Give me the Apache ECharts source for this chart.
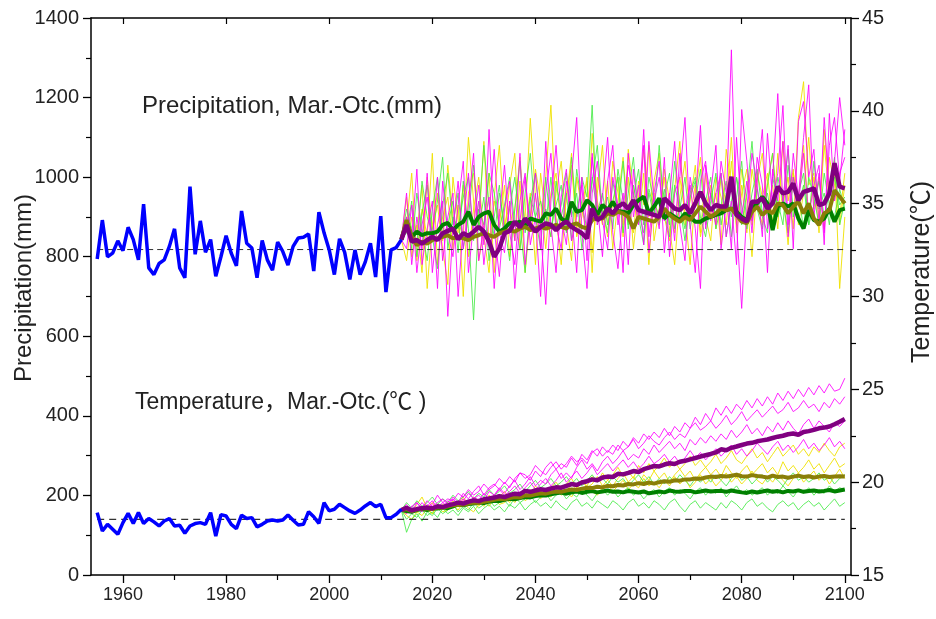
<!DOCTYPE html>
<html><head><meta charset="utf-8">
<script src="https://cdn.jsdelivr.net/npm/echarts@6/dist/echarts.min.js"></script>
<style>html,body{margin:0;padding:0;background:#fff}#c{width:936px;height:619px}</style>
</head><body><div id="c"></div>
<script>
// ---------- DATA ----------
const obsStart = 1955;
const futStart = 2014;
const xMajorTicks = [1960, 1980, 2000, 2020, 2040, 2060, 2080, 2100];
const xMinorTicks = [1970, 1990, 2010, 2030, 2050, 2070, 2090];
const precipBaseline = 818;
const tempBaseline = 18.0;

const obsPrecip = [794,892,800,809,840,815,874,843,792,932,
772,755,783,792,826,870,772,747,976,806,
890,811,843,751,800,853,809,777,915,834,
822,747,841,792,766,837,813,779,826,847,
849,857,764,912,860,817,755,845,811,743,
817,755,787,834,749,902,711,817,823,843];

const obsTemp = [18.36,17.37,17.73,17.46,17.19,17.82,18.32,17.78,18.36,17.78,
18.04,17.86,17.64,17.91,18.04,17.64,17.68,17.25,17.64,17.77,
17.82,17.73,18.36,17.10,18.25,18.18,17.73,17.50,18.22,18.04,
18.09,17.59,17.73,17.91,17.96,17.91,17.96,18.23,17.95,17.69,
17.73,18.41,18.14,17.78,18.90,18.45,18.54,18.81,18.63,18.45,
18.32,18.50,18.72,18.90,18.68,18.81,18.09,18.09,18.27,18.54];

// thick ensemble means, precipitation (2014-2100)
const precipPurple = [843,880,838,842,833,842,850,842,859,865,
871,844,859,852,863,875,863,838,800,821,
859,865,888,874,896,880,863,875,884,880,
867,880,888,875,867,859,846,921,892,900,
921,909,926,934,921,942,917,913,909,905,
900,947,934,921,917,930,909,934,963,934,
917,930,926,926,1001,905,896,888,938,938,
947,921,934,976,959,963,984,942,963,967,
972,930,934,959,1035,976,972];
const precipGreen = [843,888,850,863,854,859,859,863,880,885,
867,880,888,913,880,900,909,913,880,863,
871,885,884,888,875,896,892,888,909,905,
921,896,888,938,913,917,942,930,905,930,
917,938,915,913,909,930,942,951,909,926,
947,896,909,900,892,909,900,888,888,896,
900,905,909,917,921,913,900,892,921,934,
951,934,867,926,934,926,934,896,871,917,
892,888,896,921,888,917,921];
const precipOlive = [843,892,850,829,838,833,842,846,850,854,
846,850,846,842,850,854,859,854,850,859,
863,867,863,871,875,867,871,875,871,875,
880,875,871,880,884,875,871,892,900,896,
909,905,913,909,900,871,900,896,892,888,
900,921,905,896,888,900,892,909,926,913,
900,909,921,917,921,905,888,884,913,926,
905,917,909,934,930,909,926,938,909,934,
896,880,909,917,967,951,934];

// thin ensemble members, precipitation (2014-2100)
const precipMagenta1 = [843,960,780,900,820,1010,760,880,940,650,
870,990,820,930,1060,790,880,950,720,900,
1030,860,780,940,1010,830,900,700,960,1060,
880,820,990,910,760,1000,870,1050,930,800,
990,1080,880,960,780,1020,900,1120,850,960,
1040,810,950,1090,880,790,1000,930,1130,870,
960,1080,820,930,1320,880,670,920,1060,980,
850,1110,940,1010,1180,880,1060,950,1100,1232,
900,1010,860,1080,1150,990,1120];
const precipMagenta2 = [843,900,850,1020,780,870,940,720,990,860,
800,930,1040,760,880,980,830,1120,870,750,
920,990,840,1060,780,900,1010,870,680,940,
1080,900,830,1000,1150,860,720,960,1040,890,
820,1000,930,760,1060,900,980,830,1090,940,
870,1050,800,960,1000,1150,880,760,990,1040,
890,960,1010,850,940,780,1170,1040,890,990,
1120,870,1000,1210,930,1080,820,1140,1190,1000,
1070,880,1150,960,1040,1200,1080];
const precipMagenta3 = [843,820,930,760,880,950,840,1000,790,900,
960,700,880,1010,850,940,780,900,1070,860,
810,940,720,890,1000,870,960,820,1090,880,
760,950,1020,840,900,980,790,1060,880,950,
1100,860,770,920,1030,960,880,1080,810,940,
1000,890,960,840,1060,920,980,870,720,1030,
950,880,1040,960,820,1100,900,990,860,1050,
980,760,1020,940,1090,850,1000,930,1060,900,
980,1030,830,1160,940,1010,1050];
const precipYellow1 = [843,950,800,880,760,1000,870,930,820,730,
1000,890,850,1100,940,790,870,1010,760,920,
860,980,1060,820,900,1148,950,880,1000,1181,
900,780,960,1030,870,920,1000,810,960,1080,
880,930,1000,850,1070,960,890,1010,780,990,
1060,900,840,970,1090,880,940,1030,850,920,
980,870,1000,930,1100,860,960,1020,880,1010,
950,1010,880,1060,930,1000,870,1150,1240,980,
1010,900,1080,950,1040,720,900];
const precipYellow2 = [843,880,1010,790,920,850,1060,780,900,950,
820,930,700,960,1010,870,1090,830,940,880,
980,800,920,1050,870,960,780,1010,900,850,
960,1040,880,790,1000,920,860,1110,940,880,
990,820,940,1050,900,860,990,930,1080,840,
920,1000,870,780,950,1040,900,980,860,1010,
900,960,830,1070,980,880,1020,940,800,990,
1060,910,980,870,1090,940,1020,880,960,1100,
920,1000,870,1050,980,900,1010];
const precipYellow3 = [843,790,900,860,980,720,880,960,840,1030,
900,860,980,800,920,1000,850,760,950,1080,
880,930,840,990,760,900,1020,940,820,960,
1010,870,940,1060,850,900,990,760,1000,920,
850,1040,960,880,1000,820,950,1070,900,960,
880,1020,940,860,1000,910,780,960,1050,900,
840,1000,950,880,1040,900,980,860,1020,940,
880,990,1060,900,960,830,1010,940,1080,900,
1000,860,1120,960,1010,880,980];
const precipGreen1 = [843,900,820,960,870,790,920,1000,850,880,
940,810,990,870,641,900,1080,930,850,960,
880,790,920,1040,860,950,900,820,1000,870,
930,980,860,1050,900,1000,950,1181,880,920,
860,990,910,1040,870,950,1020,880,960,900,
1080,910,850,980,920,1000,870,940,1020,880,
960,900,1010,850,940,1000,880,960,1090,920,
870,980,1060,900,940,860,1000,930,980,880,
1040,920,960,880,1000,930,950];
const precipGreen2 = [843,860,940,800,910,980,850,770,930,1010,
880,960,820,900,1030,870,950,790,900,980,
850,920,1000,880,760,940,1010,870,920,850,
990,900,960,840,1020,930,870,1000,910,960,
880,940,1000,860,960,1050,900,830,970,920,
880,950,1010,870,930,840,960,1000,880,940,
1000,870,930,990,850,950,1040,880,920,970,
900,860,1000,940,880,1030,920,960,870,1000,
950,880,1010,930,900,970,920];
const precipGreen3 = [843,920,870,830,990,900,860,940,1050,820,
900,870,950,1000,840,920,880,1010,960,870,
930,1000,880,820,960,1060,900,940,880,1000,
870,930,1010,900,960,820,880,990,1080,900,
950,870,1020,940,880,980,910,860,1000,940,
900,970,880,1040,930,870,950,990,900,850,
940,1010,880,960,900,1000,930,870,960,1020,
910,960,880,1000,940,1070,900,960,1010,880,
930,990,900,960,1050,880,940];

// thick ensemble means, temperature (2014-2100)
const tempPurple = [18.5,18.62,18.48,18.55,18.6,18.63,18.58,18.7,18.66,18.75,
18.82,18.9,18.85,18.95,19.02,18.98,19.08,19.12,19.17,19.25,
19.2,19.3,19.38,19.35,19.53,19.48,19.55,19.62,19.58,19.66,
19.72,19.7,19.8,19.9,19.85,19.98,20.05,20.15,20.1,20.25,
20.3,20.28,20.45,20.42,20.5,20.6,20.55,20.7,20.78,20.87,
20.85,20.95,21.02,20.98,21.1,21.15,21.23,21.3,21.38,21.45,
21.52,21.6,21.77,21.72,21.85,21.92,22.0,22.08,22.12,22.2,
22.25,22.3,22.38,22.45,22.5,22.58,22.62,22.55,22.7,22.75,
22.82,22.9,22.94,23.0,23.12,23.25,23.4];
const tempOlive = [18.5,18.55,18.45,18.52,18.58,18.6,18.55,18.65,18.62,18.7,
18.75,18.8,18.78,18.85,18.9,18.88,18.95,19.0,19.05,19.1,
19.08,19.15,19.2,19.18,19.3,19.28,19.35,19.4,19.38,19.45,
19.5,19.48,19.55,19.6,19.58,19.65,19.7,19.68,19.75,19.72,
19.8,19.78,19.85,19.82,19.9,19.88,19.95,19.9,19.98,19.92,
20.0,20.05,20.02,20.1,20.08,20.15,20.15,20.2,20.18,20.25,
20.3,20.28,20.33,20.3,20.35,20.4,20.32,20.3,20.38,20.33,
20.3,20.25,20.35,20.28,20.3,20.24,20.3,20.35,20.28,20.32,
20.25,20.3,20.33,20.28,20.3,20.32,20.3];
const tempGreen = [18.5,18.45,18.4,18.5,18.55,18.5,18.6,18.58,18.65,18.6,
18.7,18.8,18.75,18.82,18.85,18.9,18.88,18.95,19.0,18.98,
19.05,19.1,19.08,19.15,19.2,19.18,19.25,19.3,19.28,19.35,
19.4,19.44,19.38,19.45,19.5,19.42,19.48,19.52,19.45,19.5,
19.55,19.48,19.5,19.45,19.52,19.48,19.44,19.5,19.4,19.44,
19.5,19.45,19.55,19.5,19.48,19.52,19.53,19.45,19.5,19.55,
19.5,19.53,19.53,19.48,19.55,19.5,19.45,19.42,19.5,19.44,
19.5,19.55,19.48,19.52,19.45,19.53,19.5,19.56,19.48,19.52,
19.55,19.5,19.53,19.58,19.5,19.55,19.6];

// thin ensemble members, temperature (2014-2100)
const tempMagenta1 = [18.5,18.8,18.4,18.9,18.6,19.0,18.7,18.9,19.1,18.8,
19.2,18.9,19.4,19.1,19.5,19.8,19.3,19.7,19.9,19.6,
20.0,19.7,20.2,20.5,20.4,20.1,20.6,20.3,20.8,21.1,
20.7,21.0,20.8,21.3,20.9,21.5,21.2,21.7,21.4,21.9,
21.6,22.0,21.7,22.2,21.9,22.4,22.1,22.6,22.3,22.7,
22.4,22.9,22.5,23.0,22.7,23.2,22.9,23.5,23.1,23.7,
23.3,24.0,23.6,24.1,23.7,24.2,23.9,24.4,24.0,24.5,
24.1,24.6,24.2,24.8,24.4,24.9,24.5,25.0,24.6,25.1,
24.7,25.2,24.8,25.3,24.9,25.0,25.6];
const tempMagenta2 = [18.5,18.3,18.7,18.5,18.9,18.6,18.8,19.3,18.9,19.1,
19.0,19.4,19.2,19.6,19.3,19.5,19.9,19.6,19.8,20.2,
19.9,20.3,20.0,20.5,20.2,20.4,20.9,20.6,20.4,20.8,
21.1,20.7,21.0,21.4,21.1,21.3,21.0,21.6,21.8,21.4,
21.7,21.5,22.0,21.7,21.9,22.3,21.8,22.1,22.5,22.2,
22.0,22.4,22.7,22.3,22.6,22.4,22.9,23.2,22.8,23.0,
23.3,22.9,23.2,23.6,23.1,23.4,23.8,23.3,23.6,23.9,
23.5,23.8,24.1,23.7,23.9,24.3,23.8,24.0,24.4,24.0,
24.2,23.8,24.3,24.0,24.5,24.2,24.6];
const tempMagenta3 = [18.5,18.6,18.3,18.6,18.4,18.8,18.5,18.7,18.6,19.0,
18.7,18.9,19.1,18.8,19.2,19.0,19.4,19.1,19.3,19.6,
19.3,19.5,19.8,19.4,19.7,20.0,19.6,19.9,20.2,19.8,
20.1,20.5,20.0,20.3,20.6,20.2,20.5,20.9,20.4,20.7,
21.0,20.6,20.9,21.2,20.8,21.1,20.7,21.0,21.4,21.0,
21.2,21.5,21.1,21.4,21.0,21.3,21.7,21.3,21.6,21.2,
21.5,21.8,21.4,21.7,22.0,21.5,21.8,21.4,21.7,22.1,
21.8,21.5,21.9,22.2,21.7,22.0,21.6,21.9,22.3,21.8,
22.1,21.7,22.0,22.4,21.9,22.2,21.8];
const tempMagenta4 = [18.5,18.4,18.7,18.9,18.5,18.7,19.0,18.6,18.9,18.7,
19.1,18.8,19.0,19.4,19.1,19.3,19.0,19.5,19.3,19.7,
19.4,19.8,20.1,19.6,19.9,20.3,19.8,20.1,19.9,20.4,
20.7,20.2,20.5,20.2,20.8,21.2,20.7,21.0,20.6,21.1,
21.4,21.0,21.3,21.7,21.2,21.5,21.3,21.8,21.5,22.0,
21.6,21.9,22.2,21.8,22.1,21.7,22.3,22.0,22.4,22.1,
22.5,22.2,22.6,22.3,22.8,22.4,22.7,23.1,22.6,22.9,
22.5,23.0,22.7,23.2,22.8,23.3,22.9,22.6,23.1,23.4,
22.9,23.3,23.0,22.7,23.2,23.0,23.3];
const tempYellow1 = [18.5,18.7,18.4,18.8,19.2,18.6,18.9,18.5,18.8,18.6,
19.0,18.7,19.1,18.8,19.2,19.0,18.7,19.3,19.0,19.2,
19.5,19.1,19.4,19.2,19.6,19.3,19.8,19.5,19.3,19.7,
20.0,19.6,19.9,20.2,19.7,20.1,19.8,20.3,20.0,20.5,
20.1,20.4,20.8,20.3,20.6,20.2,20.9,20.5,21.0,20.6,
20.9,21.3,20.8,21.1,20.7,21.0,21.4,20.9,21.2,20.8,
21.1,21.5,21.0,21.3,21.7,21.2,21.0,21.4,21.8,21.3,
21.6,21.1,21.5,21.9,21.4,21.7,22.0,21.5,21.8,21.4,
21.9,21.6,22.1,21.7,21.4,21.9,22.1];
const tempYellow2 = [18.5,18.3,18.6,18.4,18.7,18.5,18.3,18.8,18.6,18.9,
18.6,18.9,19.2,18.8,19.0,18.7,19.1,18.9,19.3,19.0,
19.2,18.9,19.4,19.1,19.3,19.6,19.2,19.5,19.3,19.7,
19.4,19.8,19.5,19.9,19.6,20.1,19.7,19.9,20.3,19.8,
20.1,19.8,20.2,20.5,20.0,20.3,19.9,20.4,20.1,20.6,
20.2,20.5,20.0,20.4,20.7,20.3,20.6,20.1,20.5,20.8,
20.4,20.7,20.3,20.9,20.5,20.2,20.6,20.9,20.4,20.7,
21.0,20.5,20.8,20.4,21.1,20.6,20.9,20.5,20.8,21.2,
20.7,21.0,20.5,20.9,21.3,20.8,21.0];
const tempYellow3 = [18.5,18.2,18.0,18.4,18.2,18.6,18.3,18.7,18.4,18.5,
18.8,18.5,18.9,18.6,18.4,18.8,19.0,18.7,19.1,18.8,
18.9,19.2,18.9,19.3,19.0,19.2,19.5,19.1,19.4,19.2,
19.6,19.3,19.5,19.2,19.7,19.4,19.8,19.5,19.3,19.7,
19.9,19.5,19.8,20.1,19.6,19.9,19.7,20.2,19.8,20.0,
19.7,20.1,19.8,20.3,19.9,20.2,19.7,20.0,20.4,19.9,
20.2,19.8,20.1,20.5,20.0,20.3,19.9,20.2,20.6,20.1,
19.9,20.3,20.0,20.4,20.1,19.8,20.2,20.5,20.0,20.3,
20.6,20.1,20.4,19.9,20.3,20.7,20.2];
const tempGreen1 = [18.5,18.9,18.6,19.0,18.7,18.9,19.2,18.8,19.1,18.9,
19.3,19.0,19.2,19.5,19.1,19.4,19.2,19.6,19.3,19.5,
19.8,19.4,19.6,19.9,19.5,19.8,20.1,19.7,19.9,20.2,
19.8,20.0,20.3,19.9,20.2,19.8,20.1,20.4,20.0,20.2,
19.9,20.3,20.0,20.2,19.8,20.1,20.4,20.0,20.3,19.9,
20.2,19.9,20.3,20.0,20.4,20.1,19.8,20.2,20.0,20.3,
20.0,20.4,20.1,19.8,20.2,20.5,20.1,20.3,19.9,20.2,
20.4,20.0,20.3,20.1,19.8,20.2,20.5,20.1,20.3,20.0,
20.2,20.5,20.1,20.3,19.9,20.2,20.4];
const tempGreen2 = [18.5,17.3,18.0,18.3,17.9,18.4,18.2,18.6,18.3,18.5,
18.8,18.4,18.7,18.5,18.9,18.6,18.8,19.1,18.7,18.9,
19.0,18.7,19.2,18.9,19.1,19.3,18.9,19.2,19.4,19.0,
19.3,19.5,19.1,19.4,19.2,19.6,19.3,19.0,19.4,19.6,
19.3,19.6,19.2,19.5,19.7,19.3,19.5,19.1,19.4,19.6,
19.2,19.5,19.7,19.3,19.6,19.4,19.1,19.5,19.7,19.3,
19.6,19.4,19.7,19.2,19.5,19.8,19.4,19.6,19.3,19.5,
19.7,19.3,19.6,19.4,19.8,19.5,19.2,19.6,19.4,19.7,
19.3,19.6,19.4,19.8,19.5,19.7,19.6];
const tempGreen3 = [18.5,18.0,18.3,18.1,18.5,18.2,18.4,18.1,18.6,18.3,
18.5,18.2,18.6,18.4,18.7,18.3,18.6,18.8,18.5,18.7,
18.4,18.8,18.6,18.9,18.5,18.8,19.0,18.7,18.9,18.6,
19.0,18.7,18.5,18.9,19.1,18.7,18.9,18.6,19.0,18.8,
18.6,19.0,18.8,18.5,18.9,19.1,18.7,18.9,18.6,19.0,
18.8,18.5,18.9,19.1,18.7,18.4,18.8,19.0,18.6,18.9,
18.7,18.5,18.9,18.6,19.0,18.8,18.5,18.9,19.1,18.7,
18.9,18.6,18.4,18.8,19.0,18.7,18.9,18.5,18.8,19.0,
18.7,18.9,18.5,18.8,19.1,18.7,18.9];

// ---------- CHART ----------
const FONT = '"Liberation Sans", Arial, "Noto Sans CJK SC", sans-serif';
const pts = (start, arr) => arr.map((v, i) => [start + i, v]);
const plain = v => String(v);

const C_MAG = 'rgba(255,0,255,0.85)';
const C_YEL = 'rgba(240,225,0,0.9)';
const C_GRN = 'rgba(70,235,70,0.85)';

function line(name, data, yIdx, color, width, extra) {
  return Object.assign({
    name, type: 'line', data: pts(data.start, data.values), xAxisIndex: 0, yAxisIndex: yIdx,
    showSymbol: false, symbol: 'none', silent: true, animation: false,
    lineStyle: { color, width }, itemStyle: { color }
  }, extra || {});
}
const S = (start, values) => ({ start, values });

const series = [];
// thin members
[[precipYellow1, C_YEL],[precipYellow2, C_YEL],[precipYellow3, C_YEL],
 [precipGreen1, C_GRN],[precipGreen2, C_GRN],[precipGreen3, C_GRN],
 [precipMagenta1, C_MAG],[precipMagenta2, C_MAG],[precipMagenta3, C_MAG]]
 .forEach((d, i) => series.push(line('p' + i, S(futStart, d[0]), 0, d[1], 1)));
[[tempYellow1, C_YEL],[tempYellow2, C_YEL],[tempYellow3, C_YEL],
 [tempGreen1, C_GRN],[tempGreen2, C_GRN],[tempGreen3, C_GRN],
 [tempMagenta1, C_MAG],[tempMagenta2, C_MAG],[tempMagenta3, C_MAG],[tempMagenta4, C_MAG]]
 .forEach((d, i) => series.push(line('t' + i, S(futStart, d[0]), 1, d[1], 1)));

// baselines
series.push(line('pBase', S(obsStart, []), 0, '#333', 1, {
  data: [[obsStart, precipBaseline], [2100, precipBaseline]],
  lineStyle: { color: '#333', width: 1, type: [6, 4] } }));
series.push(line('tBase', S(obsStart, []), 1, '#333', 1, {
  data: [[obsStart, tempBaseline], [2100, tempBaseline]],
  lineStyle: { color: '#333', width: 1.2, type: [7, 5] } }));

// thick means
series.push(line('pGreen', S(futStart, precipGreen), 0, '#008000', 4));
series.push(line('pOlive', S(futStart, precipOlive), 0, '#8a7e08', 4));
series.push(line('pPurple', S(futStart, precipPurple), 0, '#800080', 4.5));
series.push(line('tGreen', S(futStart, tempGreen), 1, '#008000', 4));
series.push(line('tOlive', S(futStart, tempOlive), 1, '#8a7e08', 4));
series.push(line('tPurple', S(futStart, tempPurple), 1, '#800080', 4.5));

// observed
series.push(line('pObs', S(obsStart, obsPrecip), 0, '#0000ff', 3.5));
series.push(line('tObs', S(obsStart, obsTemp), 1, '#0000ff', 3.5));

const axisLineStyle = { color: '#000', width: 1.5 };
const xCommon = { type: 'value', min: 1953.8, max: 2101.2, splitLine: { show: false }, gridIndex: 0 };

const option = {
  animation: false,
  backgroundColor: '#fff',
  textStyle: { fontFamily: FONT },
  grid: { left: 91, right: 85, top: 18, bottom: 44, containLabel: false },
  xAxis: [
    Object.assign({}, xCommon, { position: 'bottom',
      axisLine: { show: true, onZero: false, lineStyle: axisLineStyle },
      axisTick: { show: true, inside: false, length: 8, customValues: xMajorTicks, lineStyle: { color: '#000', width: 1.3 } },
      axisLabel: { show: true, customValues: xMajorTicks, formatter: plain, fontSize: 18, color: '#222', margin: 11, fontFamily: FONT } }),
    Object.assign({}, xCommon, { position: 'bottom',
      axisLine: { show: false, onZero: false },
      axisTick: { show: true, inside: false, length: 5, customValues: xMinorTicks, lineStyle: { color: '#000', width: 1.2 } },
      axisLabel: { show: false } }),
    Object.assign({}, xCommon, { position: 'top',
      axisLine: { show: true, onZero: false, lineStyle: axisLineStyle },
      axisTick: { show: true, inside: true, length: 6, customValues: xMajorTicks, lineStyle: { color: '#000', width: 1.2 } },
      axisLabel: { show: false } })
  ],
  yAxis: [
    { type: 'value', position: 'left', min: 0, max: 1400, interval: 200,
      axisLine: { show: true, onZero: false, lineStyle: axisLineStyle },
      axisTick: { show: true, inside: false, length: 8, lineStyle: { color: '#000', width: 1.3 } },
      minorTick: { show: true, splitNumber: 2, length: 5, lineStyle: { color: '#000', width: 1.2 } },
      axisLabel: { fontSize: 20, color: '#222', margin: 12, formatter: plain, fontFamily: FONT },
      splitLine: { show: false }, minorSplitLine: { show: false } },
    { type: 'value', position: 'right', min: 15, max: 45, interval: 5,
      axisLine: { show: true, onZero: false, lineStyle: axisLineStyle },
      axisTick: { show: true, inside: false, length: 8, lineStyle: { color: '#000', width: 1.3 } },
      minorTick: { show: true, splitNumber: 2, length: 5, lineStyle: { color: '#000', width: 1.2 } },
      axisLabel: { fontSize: 20, color: '#222', margin: 11, formatter: plain, fontFamily: FONT },
      splitLine: { show: false }, minorSplitLine: { show: false } }
  ],
  graphic: [
    { type: 'text', left: 142, top: 94, silent: true,
      style: { text: 'Precipitation, Mar.-Otc.(mm)', fontSize: 24, fill: '#222', fontFamily: FONT } },
    { type: 'text', left: 135, top: 391, silent: true,
      style: { text: 'Temperature，Mar.-Otc.(℃ )', fontSize: 23, fill: '#222', fontFamily: FONT } },
    { type: 'text', x: 24, y: 288, rotation: Math.PI / 2, silent: true,
      style: { text: 'Precipitation(mm)', fontSize: 24, fill: '#222', fontFamily: FONT, align: 'center', verticalAlign: 'middle' } },
    { type: 'text', x: 922, y: 272, rotation: Math.PI / 2, silent: true,
      style: { text: 'Temperature(℃)', fontSize: 25, fill: '#222', fontFamily: FONT, align: 'center', verticalAlign: 'middle' } }
  ],
  series
};

const chart = echarts.init(document.getElementById('c'), null, { renderer: 'canvas' });
chart.setOption(option);
</script>
</body></html>
